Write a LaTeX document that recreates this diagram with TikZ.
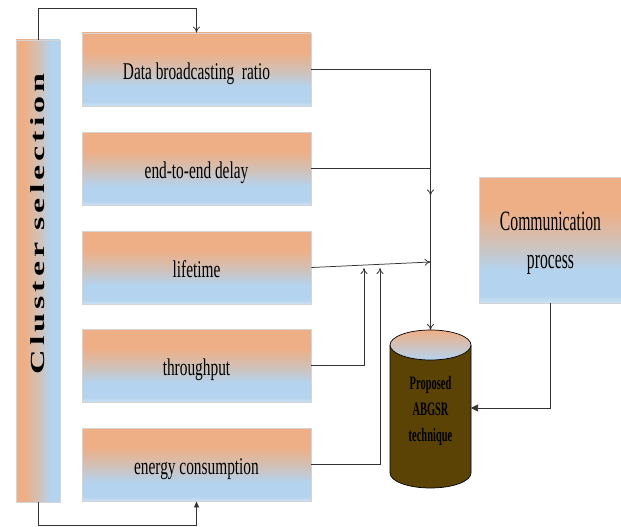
\documentclass[tikz,border=0pt]{standalone}
\usepackage{fontspec}
\setmainfont{Liberation Serif}
\newfontfamily\condfont[FakeStretch=0.64]{Liberation Serif}
\newfontfamily\commfont[FakeStretch=0.56]{Liberation Serif}
\newfontfamily\cylfont[FakeStretch=0.55]{Liberation Serif}
\newfontfamily\clusfont[FakeStretch=1.7,LetterSpace=20]{Liberation Serif}
\usetikzlibrary{arrows.meta,calc}
\definecolor{orng}{HTML}{EFAF86}
\definecolor{blu}{HTML}{B4D3EE}
\definecolor{midc}{HTML}{D3BFB3}
\definecolor{lblu}{HTML}{CDE1F3}
\definecolor{cylbrown}{HTML}{5B4306}
\definecolor{edgegray}{HTML}{D4D4D4}
\pgfdeclareverticalshading{boxshade}{100bp}{color(0bp)=(lblu); color(25bp)=(lblu); color(28bp)=(blu); color(38bp)=(blu); color(50bp)=(midc); color(62bp)=(orng); color(75bp)=(orng); color(100bp)=(orng)}
\pgfdeclarehorizontalshading{barshade}{100bp}{color(0bp)=(orng); color(25bp)=(orng); color(34bp)=(orng); color(50bp)=(midc); color(64bp)=(blu); color(75bp)=(blu); color(100bp)=(blu)}
\tikzset{
  parambox/.style={draw=edgegray, line width=0.9pt, shading=boxshade, minimum width=229pt, minimum height=73pt, inner sep=0pt, text height=22pt, text depth=3pt, font=\condfont\fontsize{24}{27}\selectfont},
  clusterbar/.style={draw=edgegray, line width=0.9pt, shading=barshade, minimum width=44pt, minimum height=462pt, inner sep=0pt},
  commbox/.style={draw=edgegray, line width=0.9pt, shading=boxshade, minimum width=142pt, minimum height=126pt, inner sep=0pt},
  conn/.style={draw=black!80, line width=0.75pt},
  vtip/.style={-{To[length=6pt,width=7pt]}},
  ftip/.style={-{Triangle[length=7pt,width=7pt]}}
}
\begin{document}
\begin{tikzpicture}[x=1pt,y=-1pt]
\useasboundingbox (0,0) rectangle (621,527);
% cluster bar
\node[clusterbar] (cs) at (38,271) {};
\node[rotate=90, font=\clusfont\bfseries\fontsize{20}{22}\selectfont] (cslabel) at (38,224) {Cluster selection};
% parameter boxes
\node[parambox] (b1) at (196.5,69.5) {Data broadcasting~ ratio};
\node[parambox] (b2) at (196.5,168.5) {end-to-end delay};
\node[parambox] (b3) at (196.5,267.5) {lifetime};
\node[parambox] (b4) at (196.5,365.5) {throughput};
\node[parambox] (b5) at (196.5,464.5) {energy consumption};
% communication box
\node[commbox] (cp) at (550.5,240) {};
\node[align=center, font=\commfont\fontsize{28}{38}\selectfont] (cptext) at (550.5,243) {Communication\\process};
% cylinder
\fill[cylbrown] (390,345) -- (390,473) arc[start angle=180, end angle=0, x radius=40.5, y radius=15] -- (471,345) -- cycle;
\draw[black, line width=0.7pt] (390,345) -- (390,473) arc[start angle=180, end angle=0, x radius=40.5, y radius=15] -- (471,345);
\shade[top color=orng, bottom color=blu, draw=black, line width=0.7pt] (430.5,345) ellipse[x radius=40.5, y radius=15];
\coordinate (cyltop) at (430.5,330);
\coordinate (cylright) at (471,408);
\node[align=center, font=\cylfont\bfseries\fontsize{19}{26}\selectfont] (cyltext) at (430.5,411) {Proposed\\ABGSR\\technique};
% junction points
\coordinate (m4) at (364,268);
\coordinate (m5) at (380,268);
\coordinate (m3) at (430.5,262);
% connectors
\draw[conn, vtip] (cs.north) -- ++(0,-31) -| (b1.north);
\draw[conn, -{Triangle[length=6pt,width=5pt]}] (cs.south) -- ++(0,23) -| (b5.south);
\draw[conn, vtip] (b1.east) -| (cyltop);
\draw[conn] (b2.east) -- (b2.east -| cyltop);
\draw[conn, vtip] (b2.east -| cyltop) -- ++(0,27);
\draw[conn, vtip] (b3.east) -- (m3);
\draw[conn, vtip] (b4.east) -| (m4);
\draw[conn, vtip] (b5.east) -| (m5);
\draw[conn, ftip] (cp.south) |- (cylright);
\end{tikzpicture}
\end{document}
